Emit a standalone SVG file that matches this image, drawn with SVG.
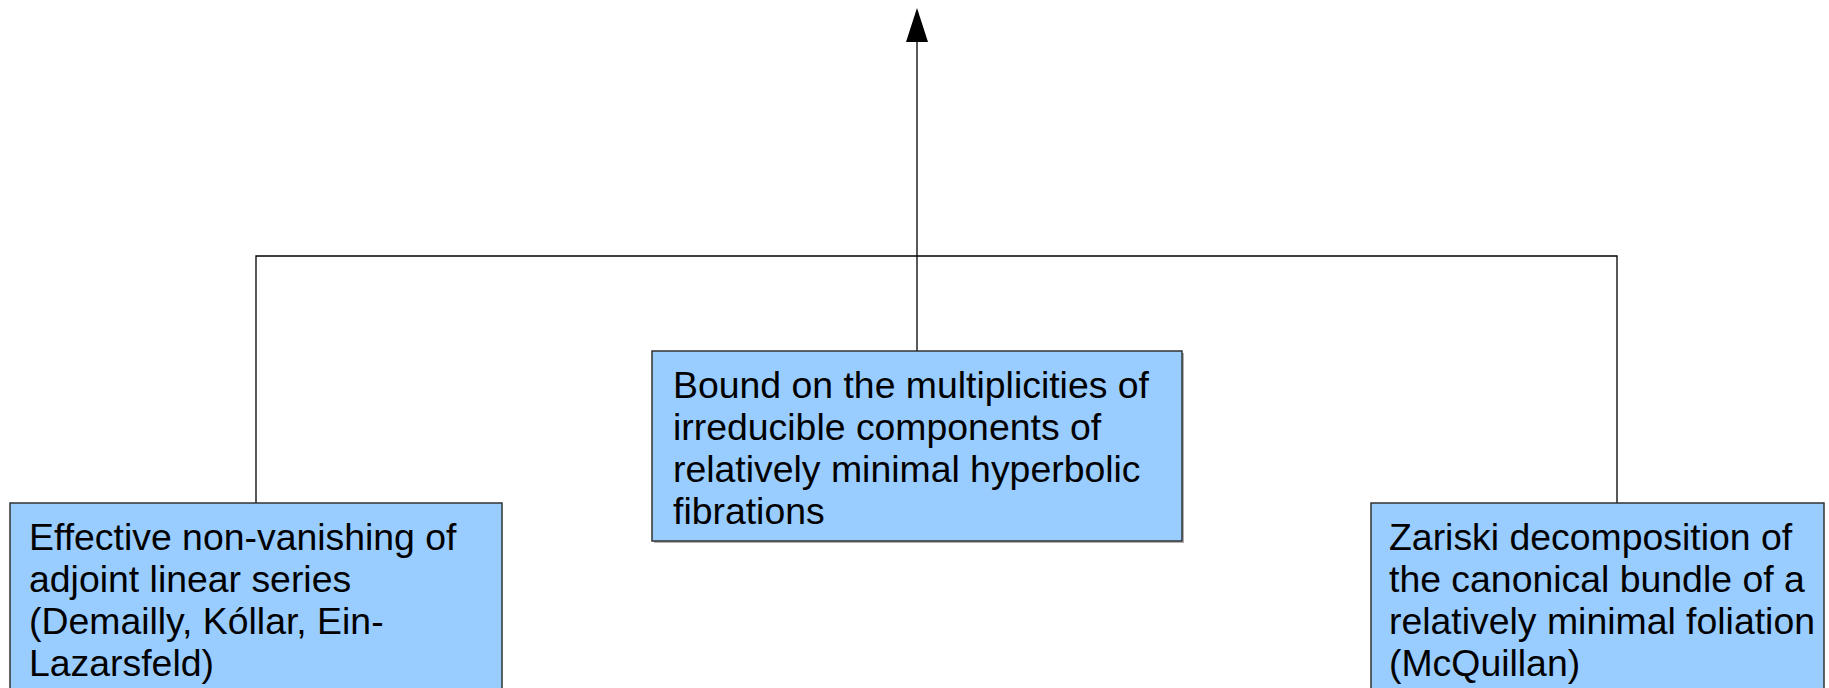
<svg xmlns="http://www.w3.org/2000/svg" width="1829" height="688" viewBox="0 0 1829 688">
<defs>
<style>
.box{fill:#99ccff;stroke:#333333;stroke-width:1.5}
.shadow{fill:#b0b0b0}
.lbl{font-family:"Liberation Sans",Arial,sans-serif;font-size:37.4px;fill:#000000}
.conn{fill:none;stroke:#000000;stroke-width:1.3}
</style>
</defs>
<rect width="1829" height="688" fill="#ffffff"/>
<g id="connectors">
<path class="conn" d="M256 503 V256 H1617 V503"/>
<path class="conn" d="M917 351 V38" stroke-width="2"/>
<path d="M917 8 L928 42 L906 42 Z" fill="#000"/>
</g>
<g id="node-center">
<rect class="shadow" x="654" y="353" width="530" height="190"/>
<rect class="box" x="652" y="351" width="530" height="190"/>
<text class="lbl" x="673" y="398">Bound on the multiplicities of</text>
<text class="lbl" x="673" y="440">irreducible components of</text>
<text class="lbl" x="673" y="482">relatively minimal hyperbolic</text>
<text class="lbl" x="673" y="524">fibrations</text>
</g>
<g id="node-left">
<rect class="box" x="10" y="503" width="492" height="200"/>
<text class="lbl" x="29" y="550">Effective non-vanishing of</text>
<text class="lbl" x="29" y="592">adjoint linear series</text>
<text class="lbl" x="29" y="634">(Demailly, Kóllar, Ein-</text>
<text class="lbl" x="29" y="676">Lazarsfeld)</text>
</g>
<g id="node-right">
<rect class="box" x="1371" y="503" width="453" height="200"/>
<text class="lbl" x="1389" y="550">Zariski decomposition of</text>
<text class="lbl" x="1389" y="592">the canonical bundle of a</text>
<text class="lbl" x="1389" y="634">relatively minimal foliation</text>
<text class="lbl" x="1389" y="676">(McQuillan)</text>
</g>
</svg>
